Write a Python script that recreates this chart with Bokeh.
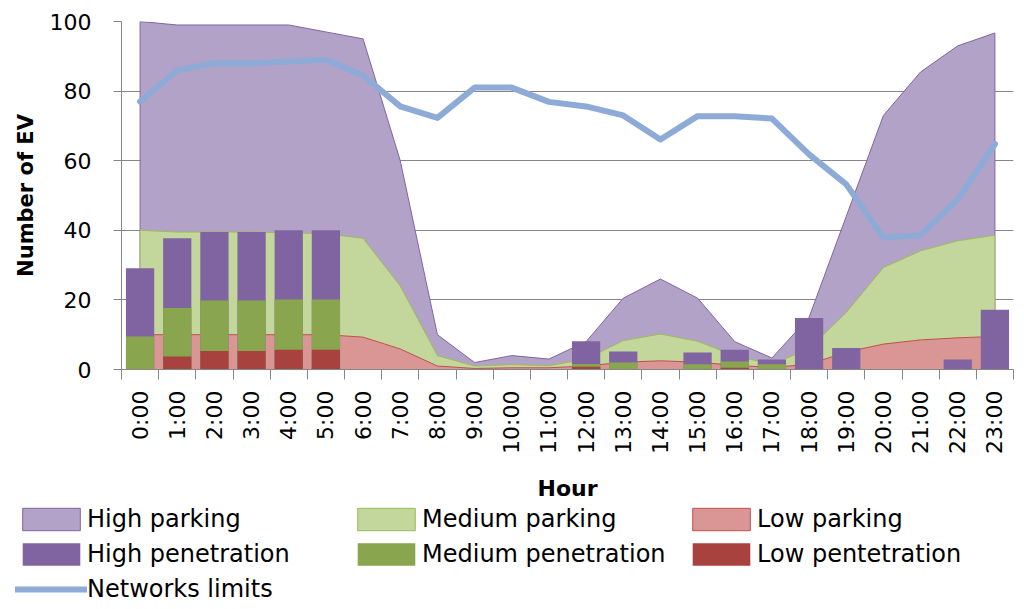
import math

from bokeh.embed import file_html
from bokeh.models import FixedTicker, Legend, LegendItem, Range1d
from bokeh.plotting import figure
from bokeh.resources import INLINE

# ---- data ----
hours = ["0:00", "1:00", "2:00", "3:00", "4:00", "5:00", "6:00", "7:00",
         "8:00", "9:00", "10:00", "11:00", "12:00", "13:00", "14:00", "15:00",
         "16:00", "17:00", "18:00", "19:00", "20:00", "21:00", "22:00", "23:00"]

high_parking = [100, 99, 99, 99, 99, 97, 95, 60, 10, 2, 4, 3,
                8, 20.5, 26, 20.5, 8, 3.3, 15, 44, 73, 85.5, 93, 96.7]
medium_parking = [40, 39.5, 39.5, 39.5, 39.3, 39, 37.7, 24, 4, 1, 1.4, 1.1,
                  3, 8.3, 10.2, 8.1, 4, 1.5, 6, 16.4, 29.3, 34.1, 37, 38.6]
low_parking = [10, 10, 10, 10, 10, 10, 9.3, 5.9, 1, 0.3, 0.5, 0.5,
               1, 2.1, 2.5, 2.1, 1.2, 0.6, 1.5, 5, 7.3, 8.5, 9.1, 9.5]

high_pen = [29.1, 37.7, 39.5, 39.5, 40, 40, 0, 0, 0, 0, 0, 0,
            8.1, 5.2, 0, 4.9, 5.7, 2.9, 14.8, 6.2, 0, 0, 2.9, 17.2]
medium_pen = [9.5, 17.7, 19.8, 19.8, 20.1, 20.1, 0, 0, 0, 0, 0, 0,
              1.6, 2, 0, 1.5, 2.3, 1.5, 0, 0, 0, 0, 0, 0]
low_pen = [0, 3.7, 5.3, 5.3, 5.7, 5.7, 0, 0, 0, 0, 0, 0,
           0.8, 0, 0, 0, 0.5, 0, 0, 0, 0, 0, 0, 0]

network_limits = [77, 86, 88, 88, 88.5, 89, 84.5, 75.6, 72.3, 81, 81, 76.9,
                  75.6, 73, 66.1, 72.8, 72.8, 72.1, 61.8, 53.2, 37.9, 38.6, 48.9, 64.8]

y_ticks = [0, 20, 40, 60, 80, 100]

FONT = "DejaVu Sans"
GRAY = "#868686"

# series styles
HP = ("#b3a2c7", "#8064a2")
MP = ("#c3d69b", "#9bbb59")
LP = ("#d99694", "#c0504d")
HB, MB, LB = "#8064a2", "#89a54e", "#a8423f"
NET = "#8eaad6"

n = len(hours)
x = list(range(n))
bw = 0.76


def draw_series(fig):
    # areas, overlapping bars and the limit line; returns renderers for the legend
    r = {}
    for name, vals, st in [("High parking", high_parking, HP),
                           ("Medium parking", medium_parking, MP),
                           ("Low parking", low_parking, LP)]:
        r[name] = fig.patch(x + x[::-1], vals + [0] * n, fill_color=st[0],
                            line_color=st[1], line_width=1)
    for name, vals, col in [("High penetration", high_pen, HB),
                            ("Medium penetration", medium_pen, MB),
                            ("Low pentetration", low_pen, LB)]:
        r[name] = fig.vbar(x=x, top=vals, width=bw, fill_color=col, line_color=None)
    r["Networks limits"] = fig.line(x, network_limits, line_color=NET, line_width=6,
                                    line_join="round", line_cap="round")
    return r


p = figure(width=1016, height=504,
           x_range=Range1d(-0.5, n - 0.5), y_range=Range1d(0, 100),
           min_border_left=121, min_border_right=3,
           min_border_top=21, min_border_bottom=135,
           output_backend="svg", toolbar_location=None)
p.outline_line_color = None
p.xgrid.visible = False
p.ygrid.grid_line_color = GRAY
p.ygrid.ticker = FixedTicker(ticks=y_ticks)

draw_series(p)

# axes
xa = p.xaxis[0]
xa.ticker = FixedTicker(ticks=x, minor_ticks=[i - 0.5 for i in range(n + 1)])
xa.major_label_overrides = {i: h for i, h in enumerate(hours)}
xa.major_label_orientation = math.pi / 2
xa.major_tick_line_color = None
xa.major_tick_out = 10
xa.major_tick_in = 0
xa.minor_tick_out = 10
xa.minor_tick_in = 0
xa.minor_tick_line_color = GRAY
xa.axis_line_color = GRAY
xa.major_label_standoff = 11
xa.major_label_text_font = FONT
xa.major_label_text_font_size = "22px"
xa.major_label_text_color = "black"
xa.axis_label = "Hour"
xa.axis_label_text_font = FONT
xa.axis_label_text_font_size = "22px"
xa.axis_label_text_font_style = "bold"
xa.axis_label_text_color = "black"
xa.axis_label_standoff = 19

ya = p.yaxis[0]
ya.ticker = FixedTicker(ticks=y_ticks)
ya.minor_tick_line_color = None
ya.major_tick_out = 8
ya.major_tick_in = 0
ya.major_tick_line_color = GRAY
ya.axis_line_color = GRAY
ya.major_label_standoff = 22
ya.major_label_text_font = FONT
ya.major_label_text_font_size = "22px"
ya.major_label_text_color = "black"
ya.axis_label = "Number of EV"
ya.axis_label_text_font = FONT
ya.axis_label_text_font_size = "21px"
ya.axis_label_text_font_style = "bold"
ya.axis_label_text_color = "black"
ya.axis_label_standoff = 9

# legend strip under the chart: same series, viewed far away so only the legend shows
q = figure(width=1016, height=102, x_range=Range1d(-1000, -999),
           y_range=Range1d(-1000, -999),
           x_axis_location=None, y_axis_location=None, min_border=0,
           output_backend="svg", toolbar_location=None)
q.outline_line_color = None
q.grid.visible = False

lg = draw_series(q)

legend = Legend(items=[LegendItem(label=k, renderers=[r]) for k, r in lg.items()],
                orientation="horizontal", ncols=3, location=(15, 3))
legend.padding = 0
legend.margin = 0
legend.spacing = 7
legend.glyph_width = 72
legend.glyph_height = 28
legend.label_height = 28
legend.label_width = 256
legend.label_standoff = 0
legend.label_text_font = FONT
legend.label_text_font_size = "24px"
legend.label_text_color = "black"
legend.border_line_color = None
legend.background_fill_color = None
q.add_layout(legend, "center")

open("out.html", "w").write(file_html([p, q], INLINE))
